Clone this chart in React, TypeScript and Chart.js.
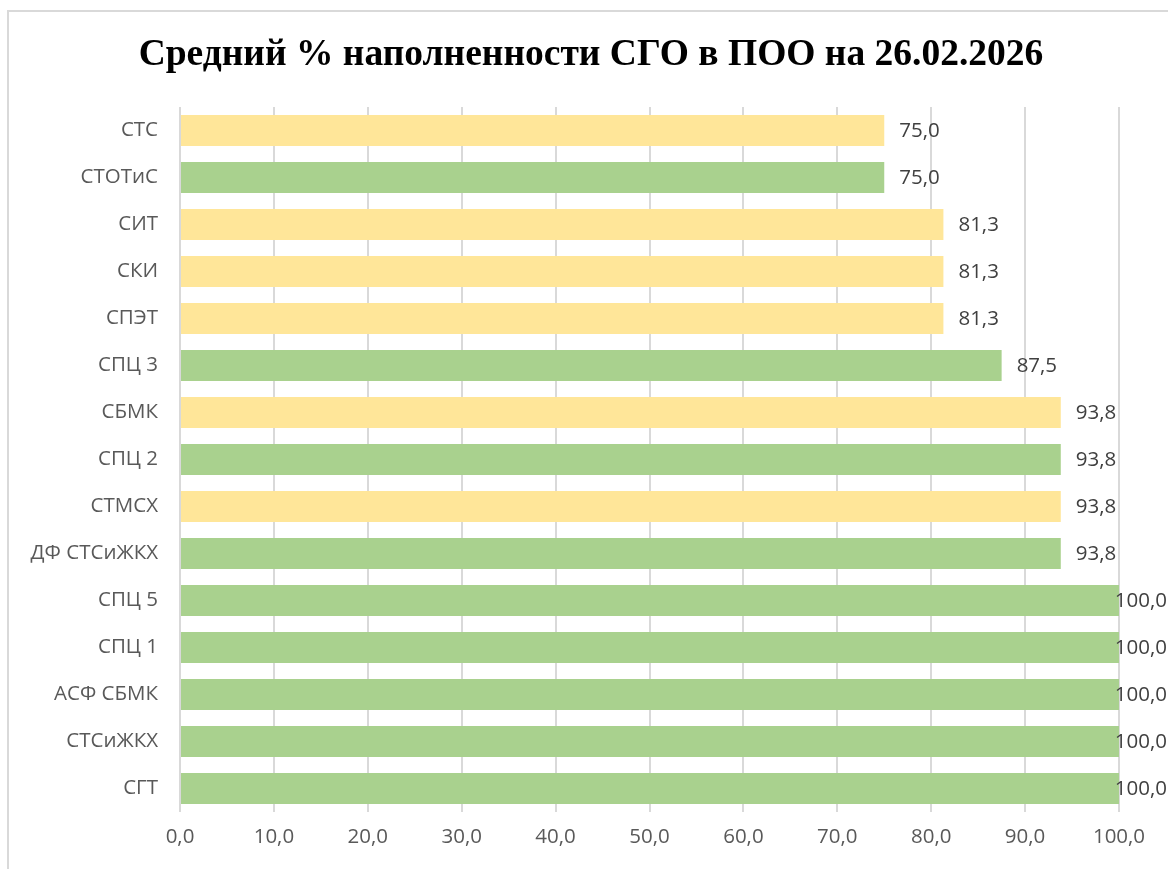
import React, { useEffect, useRef } from "react";
import { Chart, registerables } from "chart.js";

Chart.register(...registerables);

const categories = [
  "СТС", "СТОТиС", "СИТ", "СКИ", "СПЭТ", "СПЦ 3", "СБМК", "СПЦ 2",
  "СТМСХ", "ДФ СТСиЖКХ", "СПЦ 5", "СПЦ 1", "АСФ СБМК", "СТСиЖКХ", "СГТ",
];
const values = [75.0, 75.0, 81.3, 81.3, 81.3, 87.5, 93.8, 93.8, 93.8, 93.8, 100.0, 100.0, 100.0, 100.0, 100.0];
const groups = ["y", "g", "y", "y", "y", "g", "y", "g", "y", "g", "g", "g", "g", "g", "g"];
const titleText = "Средний % наполненности СГО в ПОО на 26.02.2026";

const YELLOW = "#FFE699";
const GREEN = "#A9D18E";
const FONT = "'Open Sans', 'Liberation Sans', sans-serif";

const fmt = (v: number) => v.toFixed(1).replace(".", ",");

export default function App() {
  const ref = useRef<HTMLCanvasElement | null>(null);
  useEffect(() => {
    if (!ref.current) return;
    const decor = {
      id: "decor",
      beforeDraw(chart: any) {
        const ctx = chart.ctx;
        ctx.save();
        ctx.fillStyle = "#ffffff";
        ctx.fillRect(0, 0, chart.width, chart.height);
        ctx.strokeStyle = "#d9d9d9";
        ctx.lineWidth = 2;
        ctx.strokeRect(8, 11, chart.width + 20, chart.height + 20);
        ctx.fillStyle = "#000000";
        ctx.font = "bold 37.5px 'Liberation Serif', 'Times New Roman', serif";
        ctx.textAlign = "center";
        ctx.textBaseline = "alphabetic";
        ctx.fillText(titleText, 591, 65);
        ctx.restore();
      },
      afterDatasetsDraw(chart: any) {
        const ctx = chart.ctx;
        const meta = chart.getDatasetMeta(0);
        ctx.save();
        ctx.font = `20.5px ${FONT}`;
        ctx.fillStyle = "#404040";
        ctx.textBaseline = "middle";
        ctx.textAlign = "left";
        meta.data.forEach((el: any, i: number) => {
          const t = fmt(values[i]);
          const w = ctx.measureText(t).width;
          let x = el.x + 15;
          if (x + w > chart.width - 1) x = chart.width - 1 - w;
          ctx.fillText(t, x, el.y + 1);
        });
        ctx.restore();
      },
    };
    const chart = new Chart(ref.current, {
      type: "bar",
      data: {
        labels: categories,
        datasets: [
          {
            data: values,
            backgroundColor: groups.map((g) => (g === "y" ? YELLOW : GREEN)),
            borderWidth: 0,
            categoryPercentage: 1,
            barPercentage: 0.66,
          },
        ],
      },
      options: {
        indexAxis: "y",
        animation: false,
        responsive: false,
        maintainAspectRatio: false,
        layout: { padding: { top: 107, right: 49, left: 0, bottom: 0 } },
        plugins: {
          legend: { display: false },
          title: { display: false },
          tooltip: { enabled: false },
        },
        scales: {
          x: {
            min: 0,
            max: 100,
            ticks: {
              stepSize: 10,
              color: "#595959",
              font: { size: 20.5, family: FONT },
              padding: 13,
              maxRotation: 0,
              callback: (v: any) => fmt(Number(v)),
            },
            grid: { color: "#d9d9d9", lineWidth: 2, drawTicks: false },
            border: { display: false },
            afterFit: (s: any) => {
              s.height = 57;
            },
          },
          y: {
            ticks: {
              color: "#595959",
              font: { size: 20.5, family: FONT },
              padding: 22,
            },
            grid: { display: false, drawTicks: false },
            border: { display: false },
            afterFit: (s: any) => {
              s.width = 180;
            },
          },
        },
      },
      plugins: [decor],
    } as any);
    return () => chart.destroy();
  }, []);
  return (
    <div style={{ position: "fixed", left: 0, top: 0, width: 1168, height: 869 }}>
      <canvas ref={ref} width={1168} height={869} style={{ display: "block" }} />
    </div>
  );
}
